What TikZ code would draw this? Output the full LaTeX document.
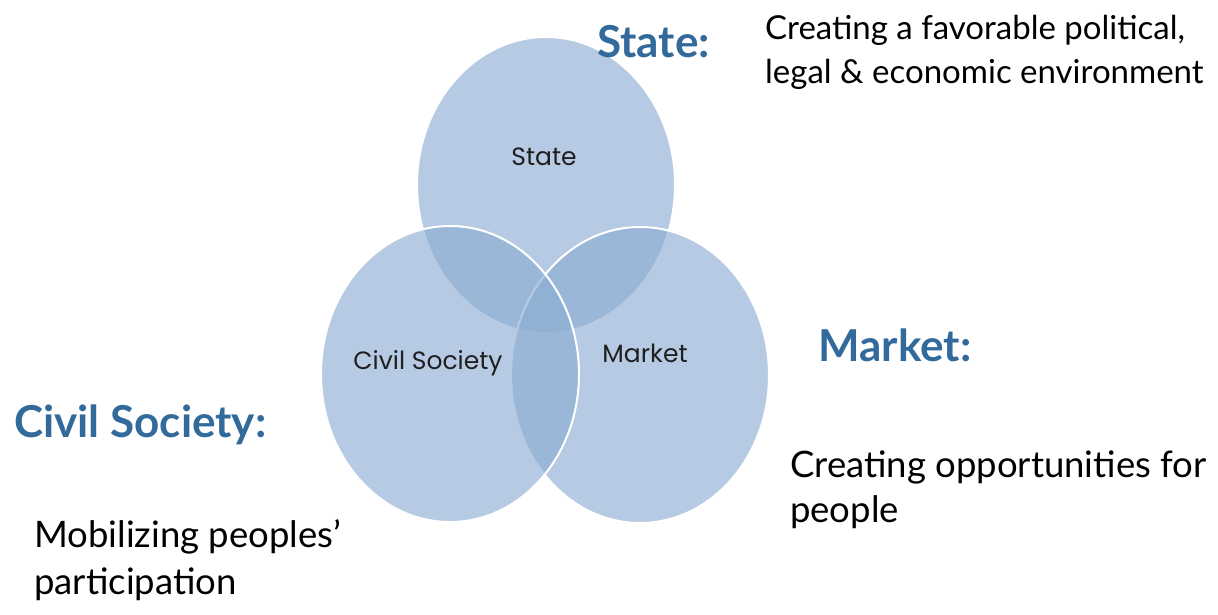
\documentclass[tikz,border=0pt]{standalone}
\usepackage{fontspec}
\setmainfont{Lato}
\newfontfamily\geofont{Poppins}
\usetikzlibrary{shapes.geometric}
\definecolor{circfill}{RGB}{138,172,210}
\definecolor{titleblue}{RGB}{50,106,156}
\begin{document}
\begin{tikzpicture}[x=1pt,y=1pt,
  venn/.style={ellipse, minimum width=258pt, minimum height=296pt, inner sep=0,
    fill=circfill, fill opacity=0.62, draw=white, line width=2pt},
  inlabel/.style={font=\geofont\fontsize{25}{30}\selectfont, text=black!88, inner sep=0},
  title/.style={font=\bfseries\fontsize{44}{50}\selectfont, text=titleblue, anchor=base west, inner sep=0},
  body/.style={font=\fontsize{33}{44}\selectfont, anchor=base west, inner sep=0},
  bigbody/.style={font=\fontsize{36.5}{44}\selectfont, anchor=base west, inner sep=0}]
\useasboundingbox (0,0) rectangle (1218,-614);
\fill[white] (0,0) rectangle (1218,-614);
\node[venn] (cState) at (546,-185) {};
\node[venn] (cMarket) at (640,-375) {};
\node[venn] (cCivil) at (450,-374) {};
\node[inlabel] (lState) at (544,-157) {State};
\node[inlabel] (lCivil) at (428,-363) {Civil Society};
\node[inlabel] (lMarket) at (645,-353) {Market};
\node[title] (tState) at (597,-57) {State:};
\node[body] (bState1) at (765,-39) {Creating a favorable political,};
\node[body] (bState2) at (765,-83) {legal \& economic environment};
\node[title] (tMarket) at (818,-361) {Market:};
\node[bigbody] (bMarket1) at (790,-477) {Creating opportunities for};
\node[bigbody] (bMarket2) at (790,-522) {people};
\node[title] (tCivil) at (14,-437) {Civil Society:};
\node[bigbody] (bCivil1) at (34,-547) {Mobilizing peoples'};
\node[bigbody] (bCivil2) at (34,-594) {participation};
\end{tikzpicture}
\end{document}
